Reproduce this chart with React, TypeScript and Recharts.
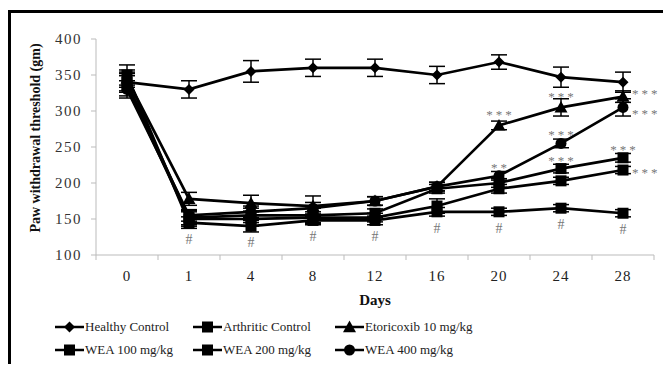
import React from 'react';
import { LineChart, Line, XAxis, YAxis, ErrorBar, LabelList } from 'recharts';

const days = ['0', '1', '4', '8', '12', '16', '20', '24', '28'];
const yTicks = [100, 150, 200, 250, 300, 350, 400];

const healthy = [340, 330, 355, 360, 360, 350, 368, 347, 340];
const healthyErr = [14, 12, 15, 12, 12, 12, 10, 14, 14];
const arthritic = [350, 145, 140, 148, 148, 160, 160, 165, 158];
const arthriticErr = [14, 8, 8, 6, 6, 6, 5, 5, 5];
const etoricoxib = [345, 178, 172, 168, 175, 195, 280, 305, 320];
const etoricoxibErr = [12, 9, 11, 14, 6, 6, 6, 12, 8];
const wea100 = [335, 150, 150, 152, 152, 168, 192, 203, 218];
const wea100Err = [14, 10, 10, 8, 6, 10, 6, 5, 5];
const wea200 = [340, 152, 155, 155, 158, 192, 200, 220, 235];
const wea200Err = [12, 10, 10, 10, 6, 6, 6, 6, 6];
const wea400 = [330, 155, 160, 165, 175, 195, 210, 255, 305];
const wea400Err = [12, 8, 8, 8, 6, 6, 6, 6, 12];

const arthriticMarks = ['', '#', '#', '#', '#', '#', '#', '#', '#'];
const etoricoxibMarks = ['', '', '', '', '', '', '***', '***', '***'];
const wea100Marks = ['', '', '', '', '', '', '', '', '***'];
const wea200Marks = ['', '', '', '', '', '', '', '***', '***'];
const wea400Marks = ['', '', '', '', '', '', '**', '***', '***'];

const data = days.map((d, i) => ({
  day: d,
  healthy: healthy[i], healthyErr: healthyErr[i],
  arthritic: arthritic[i], arthriticErr: arthriticErr[i],
  etoricoxib: etoricoxib[i], etoricoxibErr: etoricoxibErr[i],
  wea100: wea100[i], wea100Err: wea100Err[i],
  wea200: wea200[i], wea200Err: wea200Err[i],
  wea400: wea400[i], wea400Err: wea400Err[i],
}));

const FONT = '"Liberation Serif", "Times New Roman", serif';
const MARK = '#777';

type Shape = 'diamond' | 'square' | 'triangle' | 'circle';

const Marker = ({ cx, cy, shape }: { cx: number; cy: number; shape: Shape }) => {
  if (cx == null || cy == null) return null;
  if (shape === 'diamond') {
    const r = 5.5;
    return <polygon points={`${cx},${cy - r} ${cx + r},${cy} ${cx},${cy + r} ${cx - r},${cy}`} fill="#000" />;
  }
  if (shape === 'square') {
    const r = 5.5;
    return <rect x={cx - r} y={cy - r} width={2 * r} height={2 * r} fill="#000" />;
  }
  if (shape === 'triangle') {
    const r = 6.5;
    return <polygon points={`${cx},${cy - r} ${cx + r},${cy + r * 0.8} ${cx - r},${cy + r * 0.8}`} fill="#000" />;
  }
  return <circle cx={cx} cy={cy} r={5.5} fill="#000" />;
};

const makeDot = (shape: Shape) => (props: any) => (
  <Marker key={`${shape}-${props.index}`} cx={props.cx} cy={props.cy} shape={shape} />
);

const makeMarks = (marks: string[], rightLast: boolean, below: boolean, topDy: number, rightDy: number) => (props: any) => {
  const { x, y, index } = props;
  const t = marks[index];
  if (!t || x == null || y == null) return null;
  if (below) {
    return (
      <text x={x} y={y + 21} textAnchor="middle" fontFamily={FONT} fontSize={14} fill={MARK}>
        {t}
      </text>
    );
  }
  if (rightLast && index === marks.length - 1) {
    return (
      <text x={x + 9} y={y + rightDy} textAnchor="start" fontFamily={FONT} fontSize={13} fill={MARK} letterSpacing={3}>
        {t}
      </text>
    );
  }
  return (
    <text x={x + 1.5} y={y + topDy} textAnchor="middle" fontFamily={FONT} fontSize={13} fill={MARK} letterSpacing={3}>
      {t}
    </text>
  );
};

const XTick = (props: any) => {
  const { x, y, payload, index } = props;
  const half = payload && payload.offset ? payload.offset : 31;
  return (
    <g>
      <line x1={x - half} y1={y - 8} x2={x - half} y2={y - 3} stroke="#bbb" />
      {index === days.length - 1 && (
        <line x1={x + half} y1={y - 8} x2={x + half} y2={y - 3} stroke="#bbb" />
      )}
      <text x={x} y={y + 18} textAnchor="middle" fontFamily={FONT} fontSize={15} fill="#222" letterSpacing={1}>
        {payload.value}
      </text>
    </g>
  );
};

const YTitle = (props: any) => {
  const vb = props.viewBox || {};
  const cx = vb.x + 24;
  const cy = vb.y + vb.height / 2 - 9;
  return (
    <text
      x={cx}
      y={cy}
      transform={`rotate(-90 ${cx} ${cy})`}
      textAnchor="middle"
      dominantBaseline="central"
      fontFamily={FONT}
      fontWeight="bold"
      fontSize={14}
      fill="#111"
    >
      Paw withdrawal threshold (gm)
    </text>
  );
};

const legendItems: { name: string; shape: Shape }[] = [
  { name: 'Healthy Control', shape: 'diamond' },
  { name: 'Arthritic Control', shape: 'square' },
  { name: 'Etoricoxib 10 mg/kg', shape: 'triangle' },
  { name: 'WEA 100 mg/kg', shape: 'square' },
  { name: 'WEA 200 mg/kg', shape: 'square' },
  { name: 'WEA 400 mg/kg', shape: 'circle' },
];

const LegendBox = () => (
  <div
    style={{
      position: 'absolute',
      left: 44,
      top: 305,
      display: 'grid',
      gridTemplateColumns: '138px 142px 160px',
      rowGap: 6,
      fontFamily: FONT,
      fontSize: 13,
      color: '#222',
    }}
  >
    {legendItems.map((it) => (
      <div key={it.name} style={{ display: 'flex', alignItems: 'center', height: 17, whiteSpace: 'nowrap' }}>
        <svg width={29} height={14} style={{ marginRight: 1 }}>
          <line x1={0} y1={7} x2={29} y2={7} stroke="#000" strokeWidth={2.5} />
          <Marker cx={14.5} cy={7} shape={it.shape} />
        </svg>
        <span>{it.name}</span>
      </div>
    ))}
  </div>
);

const series = [
  { key: 'healthy', shape: 'diamond' as Shape, marks: null as string[] | null, right: false, below: false, topDy: 0, rightDy: 0 },
  { key: 'arthritic', shape: 'square' as Shape, marks: arthriticMarks, right: false, below: true, topDy: 0, rightDy: 0 },
  { key: 'wea100', shape: 'square' as Shape, marks: wea100Marks, right: true, below: false, topDy: -4, rightDy: 7 },
  { key: 'wea200', shape: 'square' as Shape, marks: wea200Marks, right: false, below: false, topDy: -4, rightDy: 0 },
  { key: 'wea400', shape: 'circle' as Shape, marks: wea400Marks, right: true, below: false, topDy: -4, rightDy: 11 },
  { key: 'etoricoxib', shape: 'triangle' as Shape, marks: etoricoxibMarks, right: true, below: false, topDy: -6, rightDy: 1 },
];

export default function App() {
  return (
    <div
      style={{
        position: 'relative',
        top: 2,
        width: 663,
        height: 356,
        borderTop: '3px solid #000',
        borderLeft: '3px solid #000',
        boxSizing: 'border-box',
        overflow: 'hidden',
        background: '#fff',
      }}
    >
      <LineChart width={660} height={353} data={data} margin={{ top: 26, right: 17, bottom: 51, left: 0 }}>
        <XAxis
          dataKey="day"
          scale="band"
          height={60}
          axisLine={{ stroke: '#bbb' }}
          tickLine={false}
          tick={<XTick />}
          interval={0}
          label={{
            value: 'Days',
            position: 'insideBottom',
            offset: 10,
            style: { fontFamily: FONT, fontWeight: 'bold', fontSize: 15, fill: '#111' },
          }}
        />
        <YAxis
          width={85}
          domain={[100, 400]}
          ticks={yTicks}
          interval={0}
          axisLine={{ stroke: '#bbb' }}
          tickLine={{ stroke: '#bbb' }}
          tickSize={5}
          tickMargin={9}
          tick={{ fontFamily: FONT, fontSize: 15, fill: '#333', letterSpacing: 1.5 }}
          label={<YTitle />}
        />
        {series.map((s) => (
          <Line
            key={s.key}
            dataKey={s.key}
            stroke="#000"
            strokeWidth={2.7}
            dot={makeDot(s.shape)}
            activeDot={false}
            isAnimationActive={false}
          >
            <ErrorBar dataKey={`${s.key}Err`} width={8} stroke="#000" strokeWidth={1.5} direction="y" />
            {s.marks && (
              <LabelList dataKey={s.key} content={makeMarks(s.marks, s.right, s.below, s.topDy, s.rightDy)} />
            )}
          </Line>
        ))}
      </LineChart>
      <LegendBox />
    </div>
  );
}
